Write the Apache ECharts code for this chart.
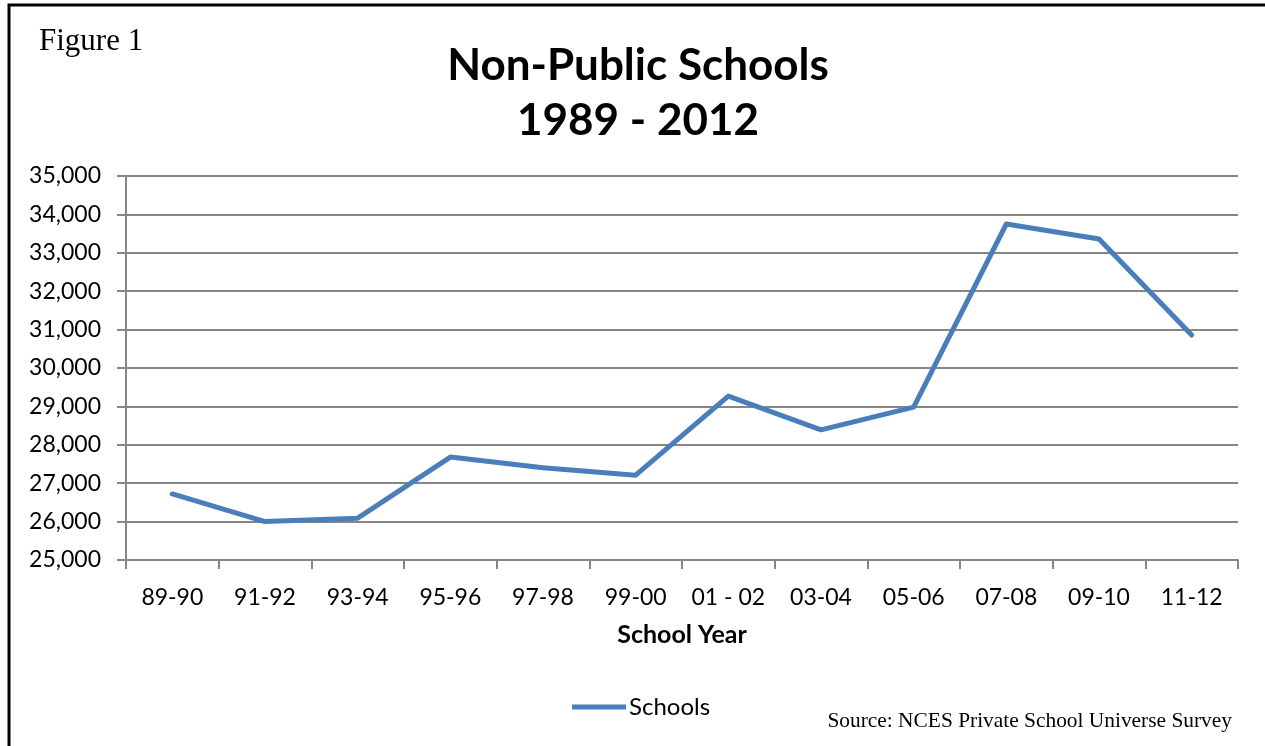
<!DOCTYPE html>
<html>
<head>
<meta charset="utf-8">
<script src="https://cdn.jsdelivr.net/npm/echarts@6/dist/echarts.min.js"></script>
<style>
  html, body { margin: 0; padding: 0; background: #fff; }
  #chart { width: 1265px; height: 746px; }
</style>
</head>
<body>
<div id="chart"></div>
<script>
// School years on the horizontal axis
const schoolYears = ['89-90', '91-92', '93-94', '95-96', '97-98', '99-00', '01 - 02', '03-04', '05-06', '07-08', '09-10', '11-12'];
// Number of non-public schools per survey year
const schoolCounts = [26720, 26000, 26090, 27680, 27400, 27210, 29270, 28390, 28980, 33750, 33360, 30860];
// Value axis range
const yMin = 25000;
const yMax = 35000;
const yStep = 1000;

const chart = echarts.init(document.getElementById('chart'), null, { renderer: 'canvas' });

const axisGray = '#868686';
const textFont = 'Lato, "Open Sans", sans-serif';

chart.setOption({
  backgroundColor: '#ffffff',
  animation: false,
  title: {
    text: 'Non-Public Schools\n1989 - 2012',
    left: 633,
    textAlign: 'center',
    top: 33,
    textStyle: {
      fontFamily: textFont,
      fontSize: 44,
      fontWeight: 'bold',
      color: '#000',
      lineHeight: 55
    }
  },
  graphic: [
    {
      type: 'rect',
      shape: { x: 9, y: 5, width: 1400, height: 900 },
      style: { fill: 'none', stroke: '#000', lineWidth: 3 },
      silent: true
    },
    {
      type: 'text',
      left: 39,
      top: 26,
      style: {
        text: 'Figure 1',
        font: '31px "Liberation Serif", "Times New Roman", serif',
        fill: '#000'
      }
    },
    {
      type: 'text',
      right: 33,
      top: 711,
      style: {
        text: 'Source: NCES Private School Universe Survey',
        font: '21.4px "Liberation Serif", "Times New Roman", serif',
        fill: '#000'
      }
    }
  ],
  legend: {
    data: ['Schools'],
    left: 567,
    top: 690,
    itemWidth: 54,
    itemHeight: 5,
    itemGap: 4,
    icon: 'rect',
    textStyle: { fontFamily: textFont, fontSize: 24, color: '#000', padding: [0, 0, 0, -2] }
  },
  grid: {
    left: 126,
    right: 27,
    top: 176,
    bottom: 186,
    containLabel: false
  },
  xAxis: {
    type: 'category',
    data: schoolYears,
    boundaryGap: true,
    name: 'School Year',
    nameLocation: 'middle',
    nameGap: 62,
    nameTextStyle: { fontFamily: textFont, fontSize: 25, fontWeight: 'bold', color: '#000' },
    axisLine: { lineStyle: { color: axisGray, width: 2 } },
    axisTick: { show: true, interval: 0, length: 9, alignWithLabel: false, lineStyle: { color: axisGray, width: 2 } },
    axisLabel: { interval: 0, hideOverlap: false, margin: 26, fontFamily: textFont, fontSize: 23, color: '#000' },
    splitLine: { show: false }
  },
  yAxis: {
    type: 'value',
    min: yMin,
    max: yMax,
    interval: yStep,
    axisLine: { show: true, lineStyle: { color: axisGray, width: 2 } },
    axisTick: { show: true, length: 9, lineStyle: { color: axisGray, width: 2 } },
    axisLabel: {
      margin: 25,
      fontFamily: textFont,
      fontSize: 23,
      color: '#000',
      formatter: v => v.toLocaleString('en-US')
    },
    splitLine: { show: true, lineStyle: { color: axisGray, width: 2 } }
  },
  series: [
    {
      name: 'Schools',
      type: 'line',
      data: schoolCounts,
      symbol: 'none',
      color: '#4a7ebb',
      lineStyle: { color: '#4a7ebb', width: 5, cap: 'round', join: 'round' }
    }
  ]
});
</script>
</body>
</html>
